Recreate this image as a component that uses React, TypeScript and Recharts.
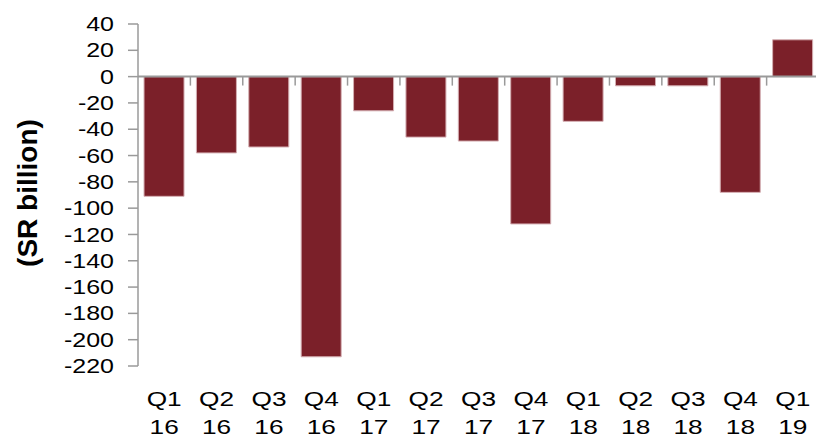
import { BarChart, Bar, XAxis, YAxis, ReferenceLine } from "recharts";

const quarters = ["Q1", "Q2", "Q3", "Q4", "Q1", "Q2", "Q3", "Q4", "Q1", "Q2", "Q3", "Q4", "Q1"];
const years = ["16", "16", "16", "16", "17", "17", "17", "17", "18", "18", "18", "18", "19"];
const balance = [-91, -58, -53.5, -213, -26, -46, -49, -112, -34, -7, -7, -88, 28];
const yTicks = [40, 20, 0, -20, -40, -60, -80, -100, -120, -140, -160, -180, -200, -220];

const data = quarters.map((q, i) => ({ name: `${q} ${years[i]}`, q, yr: years[i], value: balance[i] }));

const FONT = '"Liberation Sans", Arial, sans-serif';
const AXIS = "#9a9a9a";

function QuarterTick({ x, y, payload }: any) {
  const d = data[payload.index];
  return (
    <g transform={`translate(${x},${y}) scale(1.25,1)`}>
      <text x={0} y={0} textAnchor="middle" fontFamily={FONT} fontSize={21} fill="#000">
        <tspan x={0} dy={32}>{d.q}</tspan>
        <tspan x={0} dy={28}>{d.yr}</tspan>
      </text>
    </g>
  );
}

function ValueTick({ x, y, payload }: any) {
  return (
    <g transform={`translate(${x},${y}) scale(1.25,1)`}>
      <text x={0} y={0} dy="0.355em" textAnchor="end" fontFamily={FONT} fontSize={20} fill="#000">
        {payload.value}
      </text>
    </g>
  );
}

// zero line with the little category-boundary ticks hanging below it
function ZeroLine(props: any) {
  const { x1, y1, x2 } = props;
  const step = (x2 - x1) / data.length;
  return (
    <g>
      <line x1={x1} y1={y1} x2={x2} y2={y1} stroke={AXIS} strokeWidth={2} />
      {data.map((_, i) => (
        <line key={i} x1={x1 + step * (i + 1)} y1={y1} x2={x1 + step * (i + 1)} y2={y1 + 9} stroke={AXIS} strokeWidth={1.5} />
      ))}
    </g>
  );
}

export default function App() {
  return (
    <div style={{ position: "absolute", left: 0, top: 0, background: "#fff" }}>
      <BarChart
        width={822}
        height={437}
        data={data}
        margin={{ top: 24, right: 3, bottom: 0, left: 38 }}
        barCategoryGap="11.5%"
      >
        <XAxis dataKey="name" axisLine={false} tickLine={false} height={71} interval={0} tick={<QuarterTick />} />
        <YAxis
          width={100}
          domain={[-220, 40]}
          ticks={yTicks}
          interval={0}
          axisLine={{ stroke: AXIS, strokeWidth: 1.5 }}
          tickLine={{ stroke: AXIS, strokeWidth: 1.5 }}
          tickSize={10}
          tickMargin={14}
          tick={<ValueTick />}
          label={{
            content: ({ viewBox }: any) => {
              const cx = viewBox.x - 11;
              const cy = viewBox.y + viewBox.height / 2 - 2;
              return (
                <text x={cx} y={cy} transform={`rotate(-90 ${cx} ${cy})`} textAnchor="middle" dominantBaseline="central" fontFamily={FONT} fontSize={28} fontWeight="bold" fill="#000">
                  (SR billion)
                </text>
              );
            },
          }}
        />
        <Bar dataKey="value" fill="#7b2029" stroke="#d4aeb2" strokeWidth={1} isAnimationActive={false} />
        <ReferenceLine y={0} shape={<ZeroLine />} />
      </BarChart>
    </div>
  );
}
